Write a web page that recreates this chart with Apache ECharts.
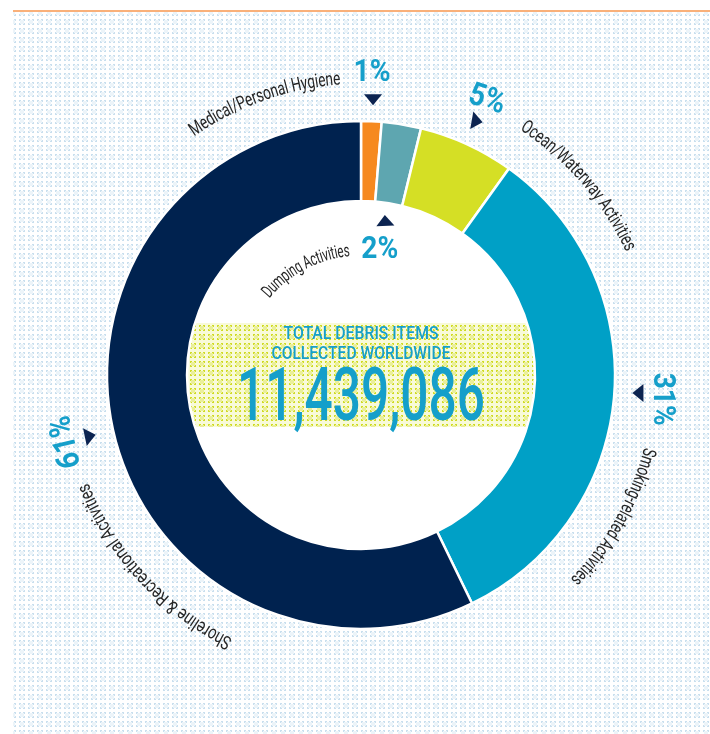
<!DOCTYPE html>
<html>
<head>
<meta charset="utf-8">
<script src="https://cdn.jsdelivr.net/npm/echarts@6/dist/echarts.min.js"></script>
<style>
  html, body { margin: 0; padding: 0; background: #fff; }
  #chart { width: 710px; height: 734px; }
</style>
</head>
<body>
<div id="chart"></div>
<script>
// slices, clockwise from 12 o'clock
const categories = ['Medical/Personal Hygiene', 'Dumping Activities', 'Ocean/Waterway Activities',
    'Smoking-related Activities', 'Shoreline & Recreational Activities'];
// share of the ring as drawn (%)
const shares = [1.3, 2.5, 6.1, 32.9, 57.2];
const percentLabels = ['1%', '2%', '5%', '31%', '61%'];
const sliceColors = ['#f6891f', '#5ea6b0', '#d5df25', '#00a0c6', '#00224f'];
const totalTitle = ['TOTAL DEBRIS ITEMS', 'COLLECTED WORLDWIDE'];
const totalValue = '11,439,086';

const CX = 361, CY = 375;
const R_IN = 174, R_OUT = 254;
const CYAN = '#159fca', NAVY = '#0c2451', INK = '#262626';

// label placement (angle clockwise from top, degrees)
const nameLayout = [
    {angle: -19.5, r: 296, span: 160, size: 19},
    {angle: -27.7, r: 124, span: 97, size: 18},
    {angle: 49, r: 297, span: 167, size: 19},
    {angle: 119.3, r: 297, span: 155, size: 19},
    {angle: 227.2, r: 298, span: 221, size: 19}
];
const pctLayout = [
    {angle: 2.1, r: 302, rot: 0, arrowAngle: 2.5, arrowR: 276, point: 180},
    {angle: 8.6, r: 126, rot: 0, arrowAngle: 8.9, arrowR: 156, point: -3},
    {angle: 24.6, r: 302, rot: 18, arrowAngle: 24.5, arrowR: 279, point: 100},
    {angle: 94.6, r: 302, rot: 90, arrowAngle: 93.7, arrowR: 278, point: 270},
    {angle: 257.2, r: 302, rot: 257, arrowAngle: 257.3, arrowR: 278, point: 78}
];

const measure = document.createElement('canvas').getContext('2d');
const rad = d => d * Math.PI / 180;
const polar = (deg, r) => [CX + r * Math.sin(rad(deg)), CY - r * Math.cos(rad(deg))];

function tile(color, bg) {
    const c = document.createElement('canvas');
    c.width = 9; c.height = 9;
    const g = c.getContext('2d');
    if (bg) { g.fillStyle = bg; g.fillRect(0, 0, 9, 9); }
    g.fillStyle = color;
    // little broken squares
    g.fillRect(1, 1, 2, 1); g.fillRect(5, 1, 2, 1);
    g.fillRect(1, 6, 2, 1); g.fillRect(5, 6, 2, 1);
    g.fillRect(1, 2, 1, 1); g.fillRect(6, 2, 1, 1);
    g.fillRect(1, 5, 1, 1); g.fillRect(6, 5, 1, 1);
    g.globalAlpha = 0.35;
    g.fillRect(2, 2, 4, 4);
    return c;
}

function fitText(text, x, y, size, width, weight, color, rotDeg) {
    const font = weight + ' ' + size + 'px Roboto';
    measure.font = font;
    const k = width ? width / measure.measureText(text).width : 0.88;
    return {
        type: 'text', x: x, y: y, rotation: -rad(rotDeg || 0), scaleX: k, z: 20, silent: true,
        style: {text: text, font: font, fill: color, align: 'center', verticalAlign: 'middle'}
    };
}

function arcText(text, lay) {
    const font = 'normal ' + lay.size + 'px Roboto';
    measure.font = font;
    const chars = [...text];
    const widths = chars.map(c => measure.measureText(c).width);
    const total = widths.reduce((a, b) => a + b, 0);
    const k = lay.span / total;
    let a = rad(lay.angle) - lay.span / (2 * lay.r);
    return chars.map((c, i) => {
        const w = widths[i] * k;
        const mid = a + w / (2 * lay.r);
        a += w / lay.r;
        return {
            type: 'text', x: CX + lay.r * Math.sin(mid), y: CY - lay.r * Math.cos(mid),
            rotation: -mid, scaleX: k, z: 20, silent: true,
            style: {text: c, font: font, fill: INK, align: 'center', verticalAlign: 'middle'}
        };
    });
}

function arrow(deg, r, pointDeg) {
    const p = polar(deg, r);
    return {
        type: 'polygon', x: p[0], y: p[1], rotation: -rad(pointDeg), z: 20, silent: true,
        shape: {points: [[0, -6], [9, 5], [-9, 5]]},
        style: {fill: NAVY}
    };
}

// band behind the total, clipped to the hole
function bandPoints(halfH, r) {
    const pts = [];
    const a0 = Math.asin(halfH / r);
    for (let i = 0; i <= 24; i++) {
        const t = -a0 + (2 * a0) * i / 24;
        pts.push([CX + r * Math.cos(t), CY + r * Math.sin(t)]);
    }
    for (let i = 0; i <= 24; i++) {
        const t = Math.PI - a0 + (2 * a0) * i / 24;
        pts.push([CX + r * Math.cos(t), CY + r * Math.sin(t)]);
    }
    return pts;
}

const elements = [
    {type: 'rect', z: -10, silent: true, shape: {x: 13, y: 12, width: 697, height: 722},
        style: {fill: {image: tile('#c9dfee'), repeat: 'repeat'}}},
    {type: 'rect', z: -9, silent: true, shape: {x: 13, y: 10, width: 697, height: 2},
        style: {fill: '#f9b07a'}},
    {type: 'circle', z: 1, silent: true, shape: {cx: CX, cy: CY, r: R_IN}, style: {fill: '#fff'}},
    {type: 'polygon', z: 2, silent: true, shape: {points: bandPoints(52, R_IN - 1)},
        style: {fill: {image: tile('#d0db25', '#f8fad8'), repeat: 'repeat'}}},
    fitText(totalTitle[0], CX, 334, 19, 155, '500', CYAN),
    fitText(totalTitle[1], CX, 354, 19, 179, '500', CYAN),
    fitText(totalValue, CX, 401, 74, 248, '500', CYAN)
];
categories.forEach((name, i) => {
    elements.push(...arcText(name, nameLayout[i]));
    const L = pctLayout[i];
    const p = polar(L.angle, L.r);
    elements.push(fitText(percentLabels[i], p[0], p[1], 32, 0, 'bold', CYAN, L.rot));
    elements.push(arrow(L.arrowAngle, L.arrowR, L.point));
});

const chart = echarts.init(document.getElementById('chart'));
chart.setOption({
    animation: false,
    backgroundColor: '#fff',
    graphic: {elements: elements},
    series: [{
        type: 'pie',
        center: [CX, CY],
        radius: [R_IN, R_OUT],
        startAngle: 90,
        clockwise: true,
        silent: true,
        z: 5,
        label: {show: false},
        labelLine: {show: false},
        itemStyle: {borderColor: '#fff', borderWidth: 2.5},
        data: categories.map((name, i) => ({
            name: name, value: shares[i], itemStyle: {color: sliceColors[i]}
        }))
    }]
});
</script>
</body>
</html>
